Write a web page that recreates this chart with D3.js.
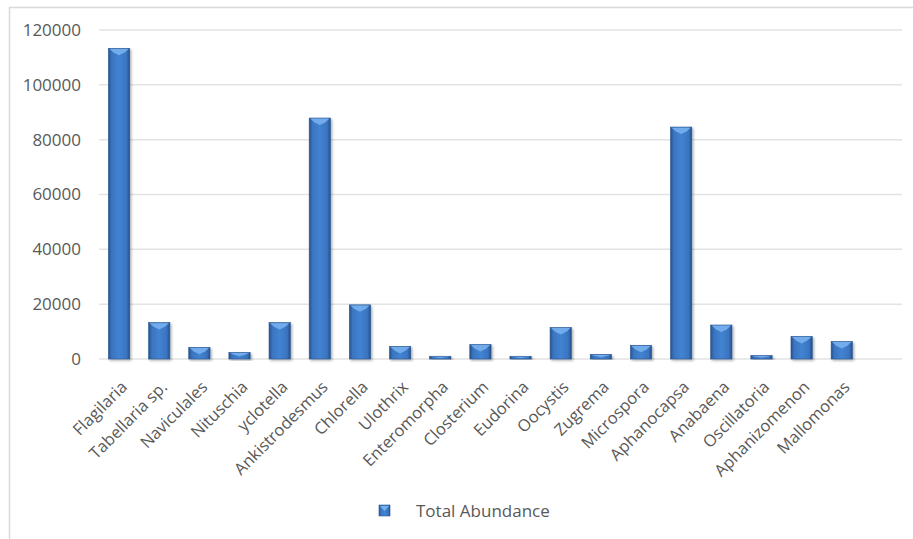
<!DOCTYPE html>
<html>
<head>
<meta charset="utf-8">
<script src="https://cdn.jsdelivr.net/npm/d3@7"></script>
<style>
  body { margin: 0; background: #fff; }
  text { font-family: "Open Sans", "Noto Sans", sans-serif; fill: #595959; }
</style>
</head>
<body>
<svg></svg>
<script>
const width = 913;
const height = 539;

// Data
const species = ["Flagilaria", "Tabellaria sp.", "Naviculales", "Nituschia", "yclotella",
  "Ankistrodesmus", "Chlorella", "Ulothrix", "Enteromorpha", "Closterium", "Eudorina",
  "Oocystis", "Zugrema", "Microspora", "Aphanocapsa", "Anabaena", "Oscillatoria",
  "Aphanizomenon", "Mallomonas", ""];
const abundance = [113300, 13300, 4250, 2400, 13300, 87900, 19750, 4600, 1000, 5300, 1000,
  11500, 1700, 5000, 84600, 12400, 1300, 8250, 6400, null];
const yTicks = [0, 20000, 40000, 60000, 80000, 100000, 120000];
const seriesName = "Total Abundance";

const margin = {left: 99, right: 11, top: 30, bottom: 179};

const svg = d3.select("svg")
    .attr("width", width)
    .attr("height", height);

// Gradients for the bevelled bars
const defs = svg.append("defs");
const grad = defs.append("linearGradient")
    .attr("id", "barGrad")
    .attr("x1", "0%").attr("x2", "100%").attr("y1", "0%").attr("y2", "0%");
grad.append("stop").attr("offset", "0%").attr("stop-color", "#25528c");
grad.append("stop").attr("offset", "15%").attr("stop-color", "#3a74bf");
grad.append("stop").attr("offset", "50%").attr("stop-color", "#4283d2");
grad.append("stop").attr("offset", "85%").attr("stop-color", "#3a74bf");
grad.append("stop").attr("offset", "100%").attr("stop-color", "#22508a");

const shadow = defs.append("filter").attr("id", "shadow")
    .attr("x", "-30%").attr("y", "-10%").attr("width", "160%").attr("height", "130%");
shadow.append("feDropShadow")
    .attr("dx", 1.5).attr("dy", 1.5).attr("stdDeviation", 1.2)
    .attr("flood-color", "#000").attr("flood-opacity", 0.3);

// Outer frame
svg.append("rect")
    .attr("x", 9.5).attr("y", 7.5)
    .attr("width", 920).attr("height", 560)
    .attr("fill", "none")
    .attr("stroke", "#d9d9d9")
    .attr("stroke-width", 1.5);

const x = d3.scaleBand()
    .domain(d3.range(species.length))
    .range([margin.left, width - margin.right])
    .paddingInner(0.47)
    .paddingOuter(0.235);

const y = d3.scaleLinear()
    .domain([0, 120000])
    .range([height - margin.bottom - 1, margin.top]);

// Gridlines
svg.append("g")
    .selectAll("line")
    .data(yTicks)
    .join("line")
    .attr("x1", margin.left)
    .attr("x2", width - margin.right)
    .attr("y1", d => y(d))
    .attr("y2", d => y(d))
    .attr("stroke", "#e3e3e3")
    .attr("stroke-width", 1.5);

// Y axis labels
const yAxis = svg.append("g")
    .attr("transform", `translate(${margin.left - 18},0)`)
    .call(d3.axisLeft(y).tickValues(yTicks).tickSize(0).tickPadding(0).tickFormat(d3.format("d")));
yAxis.select(".domain").remove();
yAxis.selectAll("text")
    .style("font-size", "17px")
    .style("font-family", "'Open Sans', sans-serif")
    .attr("fill", "#595959");

// Bars
const bars = svg.append("g")
    .selectAll("g")
    .data(abundance.map((v, i) => ({v, i})).filter(d => d.v != null))
    .join("g");

bars.append("rect")
    .attr("x", d => x(d.i))
    .attr("y", d => y(d.v))
    .attr("width", x.bandwidth())
    .attr("height", d => y(0) - y(d.v))
    .attr("fill", "url(#barGrad)")
    .attr("stroke", "#2a5790")
    .attr("stroke-width", 0.6)
    .attr("filter", "url(#shadow)");

// Light top bevel
bars.append("path")
    .attr("d", d => {
        const x0 = x(d.i), w = x.bandwidth(), t = y(d.v);
        const h = Math.min(7, (y(0) - t) * 0.6);
        return `M${x0 + 1},${t + 0.6}L${x0 + w - 1},${t + 0.6}L${x0 + w - 5},${t + h * 0.6}L${x0 + w / 2},${t + h}L${x0 + 5},${t + h * 0.6}Z`;
    })
    .attr("fill", "#78b0ee")
    .attr("opacity", 0.9);

// X labels
svg.append("g")
    .selectAll("text")
    .data(species)
    .join("text")
    .attr("transform", (d, i) => `translate(${x(i) + x.bandwidth() / 2 + 5},${y(0) + 25}) rotate(-45)`)
    .attr("text-anchor", "end")
    .attr("dy", "0.35em")
    .style("font-size", "16.5px")
    .text(d => d);

// Legend
const legend = svg.append("g").attr("transform", "translate(379,505)");
legend.append("rect")
    .attr("width", 11).attr("height", 11)
    .attr("fill", "url(#barGrad)")
    .attr("stroke", "#2a5790").attr("stroke-width", 0.6);
legend.append("path")
    .attr("d", "M1,1L10,1L5.5,6Z")
    .attr("fill", "#78b0ee");
legend.append("text")
    .attr("x", 37).attr("y", 6)
    .attr("dy", "0.35em")
    .style("font-size", "17px")
    .text(seriesName);
</script>
</body>
</html>
